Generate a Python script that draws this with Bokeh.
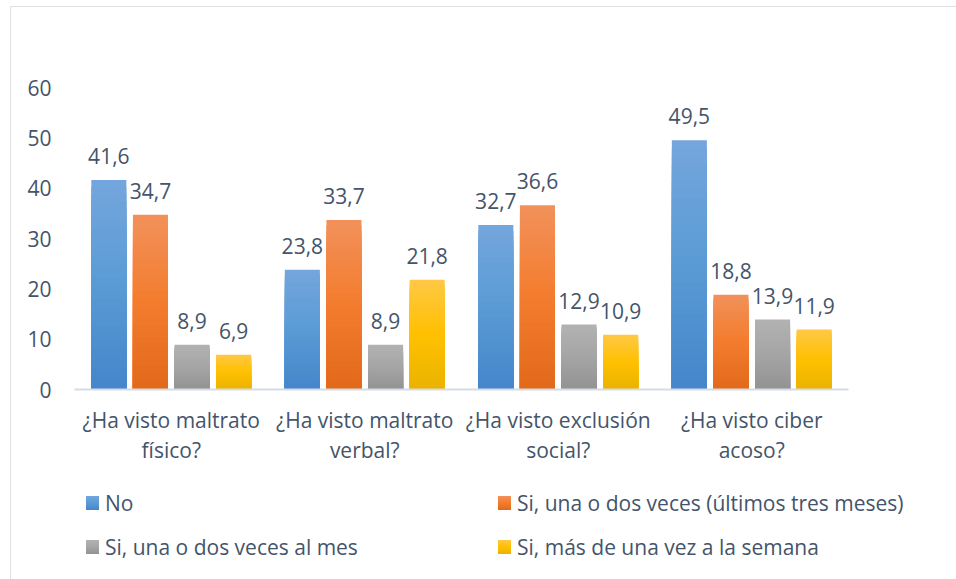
from bokeh.plotting import figure
from bokeh.layouts import column
from bokeh.models import ColumnDataSource, FactorRange, FixedTicker, Div
from bokeh.transform import dodge
from bokeh.core.properties import value
from bokeh.embed import file_html
from bokeh.resources import INLINE

categories = ["¿Ha visto maltrato\nfísico?", "¿Ha visto maltrato\nverbal?",
              "¿Ha visto exclusión\nsocial?", "¿Ha visto ciber\nacoso?"]
series_names = ["No", "Si, una o dos veces (últimos tres meses)",
                "Si, una o dos veces al mes", "Si, más de una vez a la semana"]
no_vals = [41.6, 23.8, 32.7, 49.5]
tres_meses_vals = [34.7, 33.7, 36.6, 18.8]
al_mes_vals = [8.9, 8.9, 12.9, 13.9]
semana_vals = [6.9, 21.8, 10.9, 11.9]
y_ticks = [0, 10, 20, 30, 40, 50, 60]

series_values = [no_vals, tres_meses_vals, al_mes_vals, semana_vals]
# gradient stops (top, middle, bottom)
grads = [
    ("#74A6DC", "#5A9BD5", "#4585CA"),
    ("#F2915A", "#F37C2E", "#E2691A"),
    ("#B2B2B2", "#A5A5A5", "#929292"),
    ("#FFC846", "#FFC000", "#EAB300"),
]
offsets = [-0.3225, -0.1075, 0.1075, 0.3225]
bar_w = 0.181
TXT = "#44546A"
FONT = "Open Sans"
FS = "21px"


def hex2rgb(h):
    h = h.lstrip("#")
    return tuple(int(h[i:i + 2], 16) for i in (0, 2, 4))


def interp(c1, c2, t):
    a, b = hex2rgb(c1), hex2rgb(c2)
    return "#%02x%02x%02x" % tuple(int(round(a[i] + (b[i] - a[i]) * t)) for i in range(3))


def grad_color(stops, t):  # t: 0 bottom .. 1 top
    top, mid, bot = stops
    if t >= 0.5:
        return interp(mid, top, (t - 0.5) * 2)
    return interp(bot, mid, t * 2)


p = figure(width=940, height=475, output_backend="svg", toolbar_location=None,
           x_range=FactorRange(factors=categories), y_range=(0, 60),
           min_border_left=74, min_border_right=92, min_border_top=87,
           min_border_bottom=86)
p.outline_line_color = None
p.grid.grid_line_color = None
p.background_fill_color = "white"
p.border_fill_color = "white"

N = 30
for si, (vals, stops) in enumerate(zip(series_values, grads)):
    for k in range(N):
        frac = 1 - k / N
        t = frac - 0.5 / N
        src = ColumnDataSource(dict(x=categories, top=[v * frac for v in vals]))
        p.vbar(x=dodge("x", offsets[si], range=p.x_range), top="top", bottom=0,
               width=bar_w, source=src, fill_color=grad_color(stops, t),
               line_color=None)
    lsrc = ColumnDataSource(dict(x=categories, y=vals,
                                 t=[("%.1f" % v).replace(".", ",") for v in vals]))
    p.text(x=dodge("x", offsets[si], range=p.x_range), y="y", text="t", source=lsrc,
           text_align="center", text_baseline="alphabetic", y_offset=-24,
           text_font=value(FONT), text_font_size=FS, text_color=TXT)

# axes
p.yaxis.ticker = FixedTicker(ticks=y_ticks)
p.yaxis.axis_line_color = None
p.yaxis.major_tick_line_color = None
p.yaxis.minor_tick_line_color = None
p.yaxis.major_label_text_font = FONT
p.yaxis.major_label_text_font_size = FS
p.yaxis.major_label_text_color = TXT
p.yaxis.major_label_standoff = 17

p.xaxis.axis_line_color = "#D6DCE4"
p.xaxis.axis_line_width = 2
p.xaxis.major_tick_line_color = None
p.xaxis.minor_tick_line_color = None
p.xaxis.major_label_text_font = FONT
p.xaxis.major_label_text_font_size = FS
p.xaxis.major_label_text_color = TXT
p.xaxis.major_label_text_line_height = 1.1
p.xaxis.major_label_standoff = 10

# legend (HTML, 2 columns x 2 rows; order: No, Si tres meses / al mes, semana)
col_left = [86, 498, 86, 498]
row_top = [14, 14, 58, 58]
parts = [
    # faint chart-area border (top and left edges), drawn from the legend box
    '<div style="position:absolute;left:10px;top:-469px;width:960px;height:600px;'
    'border-top:1px solid #DDE1E6;border-left:1px solid #DDE1E6;pointer-events:none;"></div>'
]
for name, stops, lx, ty in zip(series_names, grads, col_left, row_top):
    top_c, mid_c, bot_c = stops
    parts.append(
        f'<span style="position:absolute;left:{lx}px;top:{ty + 7}px;width:13px;height:14px;'
        f'background:linear-gradient({top_c},{mid_c},{bot_c});"></span>'
        f'<span style="position:absolute;left:{lx + 19}px;top:{ty}px;line-height:28px;'
        f'white-space:nowrap;">{name}</span>')
legend_html = (f'<div style="position:relative;width:940px;height:88px;'
               f'font-family:\'{FONT}\';font-size:{FS};color:{TXT};">'
               + "".join(parts) + '</div>')
legend_div = Div(text=legend_html, width=940, height=88, margin=0)

layout = column(p, legend_div, spacing=0)
open("out.html", "w").write(file_html(layout, INLINE))
